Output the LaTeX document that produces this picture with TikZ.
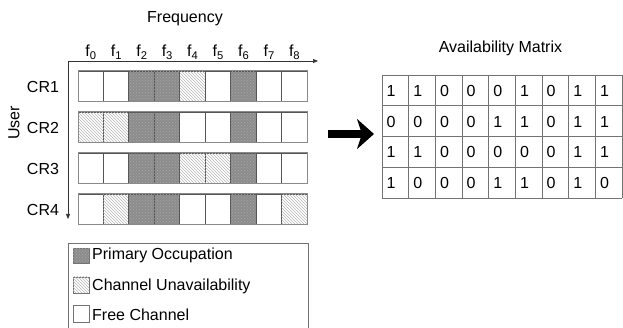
\documentclass[tikz,border=0pt]{standalone}
\usepackage{fontspec}
\setmainfont{Liberation Sans}
\usetikzlibrary{patterns,arrows.meta}
\definecolor{occ}{HTML}{8C8C8C}
\definecolor{hatch}{HTML}{B8B8B8}
\definecolor{cellline}{HTML}{555555}
\definecolor{rowline}{HTML}{8A8A8A}
\tikzset{
  lbl/.style={font=\fontsize{16}{19}\selectfont, inner sep=0pt},
  freecell/.style={draw=cellline, line width=0.9pt, fill=white},
  occcell/.style={draw=cellline, line width=0.9pt, fill=occ, postaction={pattern=crosshatch dots, pattern color=black!35}},
  unacell/.style={draw=cellline, line width=0.9pt, fill=white, postaction={pattern=north west lines, pattern color=hatch}},
  rowbox/.style={draw=rowline, line width=1pt},
  axis/.style={draw=black!80, line width=0.7pt, -{Triangle[length=5pt,width=4pt]}},
  mline/.style={draw=black!55, line width=0.9pt},
  digit/.style={font=\fontsize{16}{19}\selectfont, inner sep=0pt, anchor=west},
  legbox/.style={draw=black!55, line width=1pt},
  bigarrow/.style={line width=8pt, -{Stealth[length=17pt,width=30pt,inset=5pt]}}
}
\begin{document}
\begin{tikzpicture}[x=1pt,y=-1pt]
\useasboundingbox (0,0) rectangle (623,328);
% axis titles
\node[lbl] (freq) at (185,19) {Frequency};
\node[lbl, rotate=90] (user) at (14,123) {User};
% frequency labels
\foreach \i in {0,...,8} {
  \node[lbl] (f\i) at ({91+25.45*\i},52) {f\textsubscript{\i}};
}
% axes
\coordinate (origin) at (68,61);
\coordinate (xend) at (318,61);
\coordinate (yend) at (68,219);
\draw[axis] (origin) -- (xend);
\draw[axis] (origin) -- (yend);
% rows
\def\cellw{25.45}
\foreach \r/\pat [count=\k from 0] in {1/{f,f,o,o,u,f,o,f,f}, 2/{u,u,o,o,f,f,o,f,f}, 3/{f,f,o,o,u,u,o,f,f}, 4/{f,u,o,o,f,f,o,f,u}} {
  \pgfmathsetmacro{\ytop}{71+41*\k}
  \pgfmathsetmacro{\ybot}{\ytop+30.5}
  \node[lbl] (cr\r) at (43,{\ytop+15.5}) {CR\r};
  \foreach \p [count=\j from 0] in \pat {
    \pgfmathsetmacro{\xl}{78+\cellw*\j}
    \pgfmathsetmacro{\xr}{\xl+\cellw}
    \if o\p
      \path[occcell] (\xl,\ytop) rectangle (\xr,\ybot);
    \else\if u\p
      \path[unacell] (\xl,\ytop) rectangle (\xr,\ybot);
    \else
      \path[freecell] (\xl,\ytop) rectangle (\xr,\ybot);
    \fi\fi
  }
  \draw[rowbox] (78,\ytop) rectangle (307,\ybot);
}
% legend
\draw[legbox] (68,330) -- (68,244) -- (308,244) -- (308,330);
\path[occcell, draw=black!55, line width=0.8pt] (73,248) rectangle (89,263);
\node[lbl, anchor=west] (lg1) at (92,255.5) {Primary Occupation};
\path[unacell, draw=black!55, line width=0.8pt] (73,277) rectangle (89,293);
\node[lbl, anchor=west] (lg2) at (92,286) {Channel Unavailability};
\path[freecell, draw=black!55, line width=0.8pt] (73,305) rectangle (89,322);
\node[lbl, anchor=west] (lg3) at (92,315) {Free Channel};
% availability matrix
\node[lbl] (mtitle) at (500.5,48.5) {Availability Matrix};
\def\mw{26.67}
\def\mh{30.75}
\foreach \c in {0,...,9} {
  \draw[mline] ({382+\mw*\c},75) -- ({382+\mw*\c},198);
}
\foreach \rr in {0,...,4} {
  \draw[mline] (382,{75+\mh*\rr}) -- (622,{75+\mh*\rr});
}
\foreach \vals [count=\k from 0] in {{1,1,0,0,0,1,0,1,1},{0,0,0,0,1,1,0,1,1},{1,1,0,0,0,0,0,1,1},{1,0,0,0,1,1,0,1,0}} {
  \foreach \v [count=\j from 0] in \vals {
    \node[digit] (m\k-\j) at ({382+\mw*\j+4.5},{75+\mh*\k+15.8}) {\v};
  }
}
% big arrow
\coordinate (astart) at (328,134);
\coordinate (aend) at (374,134);
\draw[bigarrow] (astart) -- (aend);
\end{tikzpicture}
\end{document}
